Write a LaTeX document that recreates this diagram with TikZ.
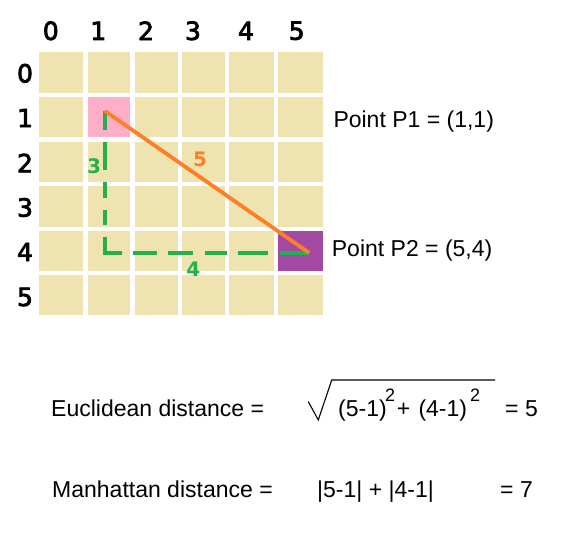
\documentclass[tikz,border=0pt]{standalone}
\usepackage{fontspec}
\setmainfont{Liberation Sans}
\newfontfamily\verd{DejaVu Sans}
\newfontfamily\verdfb[FakeBold=3]{DejaVu Sans}
\definecolor{celltan}{RGB}{239,228,176}
\definecolor{rose}{RGB}{255,174,201}
\definecolor{purp}{RGB}{163,73,164}
\definecolor{orng}{RGB}{255,127,39}
\definecolor{grn}{RGB}{34,177,76}
\begin{document}
\begin{tikzpicture}[x=1pt,y=-1pt,
  cell/.style={anchor=north west,inner sep=0pt,outer sep=0pt,draw=none},
  axislbl/.style={inner sep=0pt,font=\verdfb\fontsize{25}{25}\selectfont},
  seglbl/.style={inner sep=0pt,font=\verd\bfseries\fontsize{20}{20}\selectfont},
  txt/.style={inner sep=0pt,anchor=base west,font=\fontsize{23}{23}\selectfont},
  suptxt/.style={inner sep=0pt,anchor=base west,font=\fontsize{18}{18}\selectfont},
  grnline/.style={draw=grn,line width=4pt,line join=miter,
    dash pattern=on 19pt off 11.7pt on 28.3pt off 11.7pt on 16.6pt off 11.7pt on 15pt off 11.7pt on 33pt off 11.6pt on 23.4pt off 11.6pt on 25pt off 11.7pt on 21.7pt off 11.6pt on 30pt off 11.7pt on 40pt off 10pt},
  orgline/.style={draw=orng,line width=3.8pt}]
\useasboundingbox (0,0) rectangle (566,560);
\fill[white] (0,0) rectangle (566,560);
% grid
\foreach \cx/\cw [count=\i from 0] in {38.7/44.7,87.7/42.3,135/42.7,182/43,229.3/44.4,278.3/44.4}{
  \foreach \cy/\ch [count=\j from 0] in {52.3/40.4,97.3/39.7,141.7/40,186.3/40.4,230.7/40,275.3/40}{
    \def\cf{celltan}
    \ifnum\i\j=11 \def\cf{rose}\fi
    \ifnum\i\j=54 \def\cf{purp}\fi
    \node[cell,fill=\cf,minimum width=\cw pt,minimum height=\ch pt] (c\i\j) at (\cx,\cy) {};
  }
}
% column labels
\foreach \lx [count=\i from 0] in {50.8,98.3,146,193,246,296.7}{
  \node[axislbl] (col\i) at (\lx,30.8) {\i};
}
% row labels
\foreach \ly [count=\j from 0] in {73.3,118,163,207.5,252,297}{
  \node[axislbl] (row\j) at (25,\ly) {\j};
}
% points
\coordinate (p1) at (105,111);
\coordinate (p2) at (309.3,253);
\draw[grnline] (p1) |- (p2);
\draw[orgline] (p1) -- (p2);
\node[seglbl,text=grn] (l3) at (94.2,166.7) {3};
\node[seglbl,text=orng] (l5) at (200,159.3) {5};
\node[seglbl,text=grn] (l4) at (193.3,269.5) {4};
\node[txt] (tp1) at (333.3,127.3) {Point P1 = (1,1)};
\node[txt] (tp2) at (331.7,256.7) {Point P2 = (5,4)};
% Euclidean
\node[txt] (eu) at (51,416.7) {Euclidean distance =};
\draw[line width=1.1pt,line join=miter] (308.3,401.7) -- (318.3,420) -- (331.7,380) -- (495,380);
\node[txt] (e1) at (338,416.7) {(5-1)};
\node[suptxt] (s1) at (385,401.7) {2};
\node[txt] (e2) at (396.7,416.7) {+};
\node[txt] (e3) at (418.3,416.7) {(4-1)};
\node[suptxt] (s2) at (470,401.7) {2};
\node[txt] (e4) at (505,416.7) {= 5};
% Manhattan
\node[txt] (ma) at (52,497.3) {Manhattan distance =};
\node[txt] (m1) at (317,497.3) {|5-1| + |4-1|};
\node[txt] (m2) at (500,497.3) {= 7};
\end{tikzpicture}
\end{document}
